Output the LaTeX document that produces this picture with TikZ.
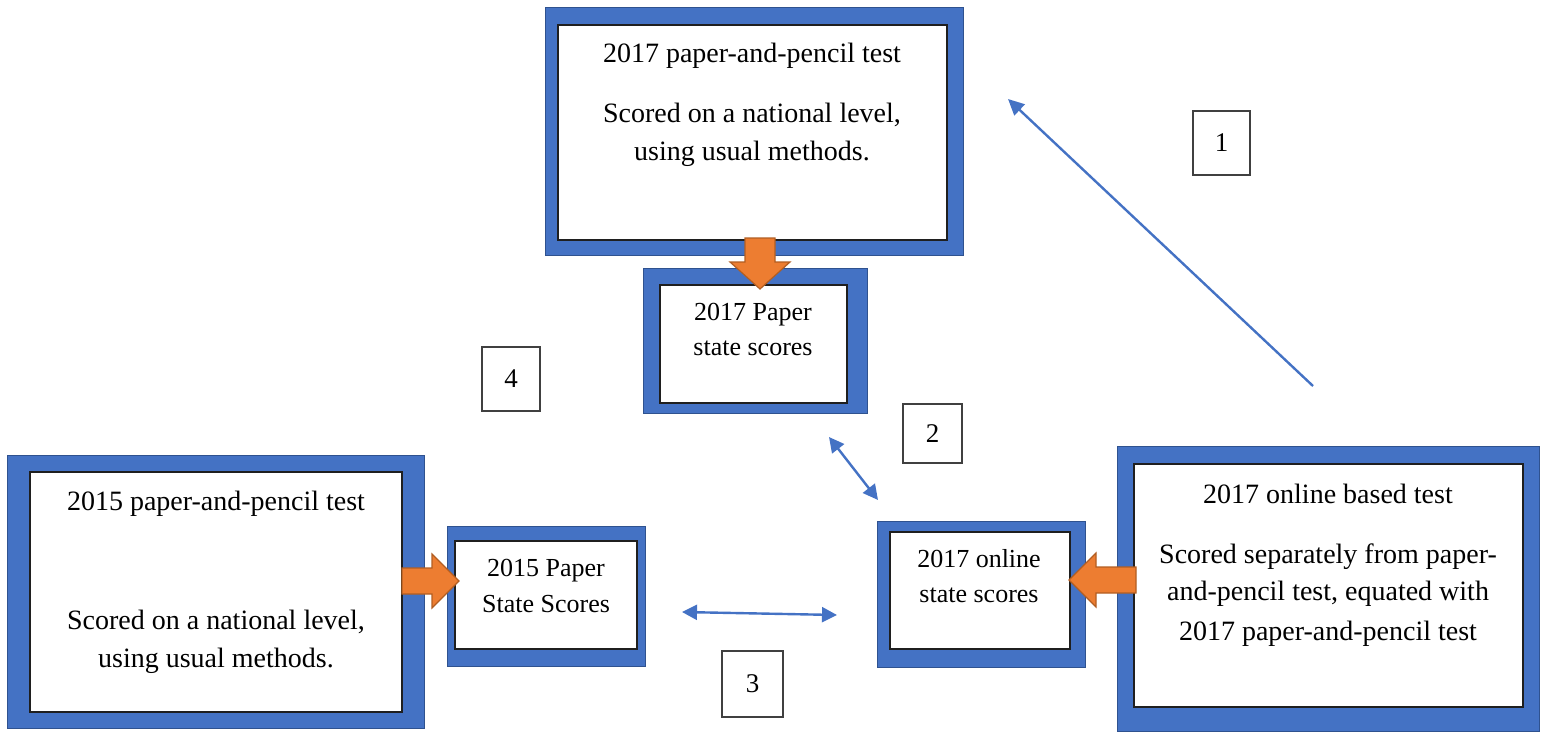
\documentclass[tikz,border=0pt]{standalone}
\usepackage{fontspec}
\setmainfont{Liberation Serif}
\usetikzlibrary{arrows.meta}
\definecolor{boxblue}{HTML}{4472C4}
\definecolor{edgeblue}{HTML}{2F528F}
\definecolor{arrorange}{HTML}{ED7D31}
\definecolor{orangeedge}{HTML}{B25E22}
\definecolor{innerline}{HTML}{1F1F1F}
\tikzset{
  outerbox/.style={draw=edgeblue, line width=1pt, fill=boxblue, inner sep=0pt, outer sep=0pt, anchor=north west},
  innerbox/.style={draw=innerline, line width=1.5pt, fill=white, inner sep=0pt, outer sep=0pt, anchor=north west},
  bigtext/.style={font=\fontsize{28}{37}\selectfont, inner sep=0pt, anchor=base},
  smalltext/.style={font=\fontsize{26}{35}\selectfont, inner sep=0pt, anchor=base},
  numbox/.style={draw=black!75, line width=1.5pt, fill=white, font=\fontsize{27}{32}\selectfont, inner sep=0pt},
  link/.style={draw=boxblue, line width=2.4pt, -{Triangle[length=16pt,width=15pt]}},
  twoway/.style={draw=boxblue, line width=2.4pt, {Triangle[length=15pt,width=15pt]}-{Triangle[length=15pt,width=15pt]}},
  blockarrow/.style={fill=arrorange, draw=orangeedge, line width=1.2pt, line join=miter},
}
\begin{document}
\begin{tikzpicture}[x=1pt,y=-1pt]
\useasboundingbox (0,0) rectangle (1541,733);

% Box A: 2017 paper-and-pencil test
\node[outerbox, minimum width=418pt, minimum height=247pt] (Aout) at (545,8) {};
\node[innerbox, minimum width=389pt, minimum height=215pt] (Ain) at (558,25) {};
\node[bigtext] (a1) at (752,63) {2017 paper-and-pencil test};
\node[bigtext] (a2) at (752,123) {Scored on a national level,};
\node[bigtext] (a3) at (752,160) {using usual methods.};

% Box B: 2017 Paper state scores
\node[outerbox, minimum width=224pt, minimum height=145pt] (Bout) at (643,268) {};
\node[innerbox, minimum width=187pt, minimum height=118pt] (Bin) at (660,285) {};
\node[smalltext] (b1) at (753,320) {2017 Paper};
\node[smalltext] (b2) at (753,355) {state scores};

% Box C: 2015 paper-and-pencil test
\node[outerbox, minimum width=417pt, minimum height=273pt] (Cout) at (7,455) {};
\node[innerbox, minimum width=372pt, minimum height=240pt] (Cin) at (30,472) {};
\node[bigtext] (c1) at (216,510) {2015 paper-and-pencil test};
\node[bigtext] (c2) at (216,629) {Scored on a national level,};
\node[bigtext] (c3) at (216,667) {using usual methods.};

% Box D: 2015 Paper State Scores
\node[outerbox, minimum width=198pt, minimum height=140pt] (Dout) at (447,526) {};
\node[innerbox, minimum width=182pt, minimum height=108pt] (Din) at (455,541) {};
\node[smalltext] (d1) at (546,576) {2015 Paper};
\node[smalltext] (d2) at (546,612) {State Scores};

% Box E: 2017 online state scores
\node[outerbox, minimum width=208pt, minimum height=146pt] (Eout) at (877,521) {};
\node[innerbox, minimum width=180pt, minimum height=117pt] (Ein) at (890,532) {};
\node[smalltext] (e1) at (979,567) {2017 online};
\node[smalltext] (e2) at (979,602) {state scores};

% Box F: 2017 online based test
\node[outerbox, minimum width=422pt, minimum height=285pt] (Fout) at (1117,446) {};
\node[innerbox, minimum width=389pt, minimum height=243pt] (Fin) at (1134,464) {};
\node[bigtext] (f1) at (1328,503) {2017 online based test};
\node[bigtext] (f2) at (1328,563) {Scored separately from paper-};
\node[bigtext] (f3) at (1328,600) {and-pencil test, equated with};
\node[bigtext] (f4) at (1328,640) {2017 paper-and-pencil test};

% Number labels
\node[numbox, minimum width=57pt, minimum height=64pt] (n1) at (1221.5,143) {1};
\node[numbox, minimum width=59pt, minimum height=59pt] (n2) at (932.5,433.5) {2};
\node[numbox, minimum width=61pt, minimum height=66pt] (n3) at (752.5,684) {3};
\node[numbox, minimum width=58pt, minimum height=64pt] (n4) at (511,379) {4};

% Orange block arrows
\draw[blockarrow] (745,238) -- (775,238) -- (775,262) -- (790,262) -- (760,289)
  -- (730,262) -- (745,262) -- cycle;
\draw[blockarrow] (402,568) -- (432,568) -- (432,554) -- (459,581) -- (432,608)
  -- (432,594) -- (402,594) -- cycle;
\draw[blockarrow] (1136,567) -- (1096,567) -- (1096,553) -- (1069,580) -- (1096,607)
  -- (1096,593) -- (1136,593) -- cycle;

% Blue connectors
\coordinate (l1s) at (1313,386);
\coordinate (l1e) at (1008,99);
\coordinate (l2s) at (829,437);
\coordinate (l2e) at (878,500);
\coordinate (l3s) at (682,612);
\coordinate (l3e) at (837,615);
\draw[link] (l1s) -- (l1e);
\draw[twoway] (l2s) -- (l2e);
\draw[twoway] (l3s) -- (l3e);
\end{tikzpicture}
\end{document}
